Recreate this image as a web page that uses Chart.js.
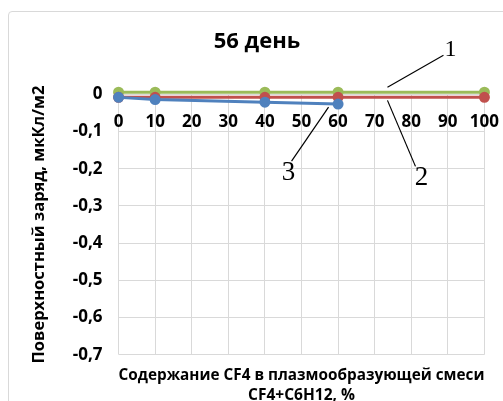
<!DOCTYPE html>
<html>
<head>
<meta charset="utf-8">
<script src="https://cdn.jsdelivr.net/npm/chart.js@4"></script>
<style>
  body { margin: 0; background: #fff; overflow: hidden; }
  #frame {
    position: absolute; left: 8px; top: 11px;
    width: 508px; height: 400px;
    border: 1px solid #d9d9d9; border-radius: 4px;
  }
</style>
</head>
<body>
<div id="frame"><canvas id="graph"></canvas></div>
<script>
// data
const xLevels1 = [0, 10, 40, 60, 100];   // curve 1 (green)
const values1 = [0.006, 0.006, 0.006, 0.006, 0.006];
const xLevels2 = [0, 10, 40, 60, 100];   // curve 2 (red)
const values2 = [-0.008, -0.008, -0.008, -0.008, -0.008];
const xLevels3 = [0, 10, 40, 60];        // curve 3 (blue)
const values3 = [-0.008, -0.014, -0.021, -0.026];

const yTicks = [0, -0.1, -0.2, -0.3, -0.4, -0.5, -0.6, -0.7];

const pairs = (xs, ys) => xs.map((x, i) => ({ x: x, y: ys[i] }));

//leader lines with the numbers 1, 2, 3
const labels = [
  { text: "1", x: 73.5, y: values1[0], dy0: -5, dx: 56, dy: -32, size: 24 },
  { text: "2", x: 73.5, y: values2[0], dy0: 3, dx: 28, dy: 66, size: 27 },
  { text: "3", x: 57.4, y: values3[3], dy0: 3, dx: -37, dy: 54, size: 27 }
];

const leaderPlugin = {
  id: "leaders",
  afterDatasetsDraw(chart) {
    const ctx = chart.ctx;
    const xs = chart.scales.x, ys = chart.scales.y;
    ctx.save();
    ctx.strokeStyle = "#000";
    ctx.lineWidth = 1.2;
    ctx.fillStyle = "#000";
    labels.forEach(l => {
      const x0 = xs.getPixelForValue(l.x);
      const y0 = ys.getPixelForValue(l.y) + l.dy0;
      ctx.beginPath();
      ctx.moveTo(x0, y0);
      ctx.lineTo(x0 + l.dx, y0 + l.dy);
      ctx.stroke();
      ctx.font = l.size + "px 'Liberation Serif'";
      ctx.textAlign = l.dy < 0 ? "left" : "center";
      ctx.textBaseline = l.dy < 0 ? "middle" : "top";
      const tx = l.dy < 0 ? x0 + l.dx + 1 : x0 + l.dx + (l.dx > 0 ? 6 : -3);
      const ty = l.dy < 0 ? y0 + l.dy - 5 : y0 + l.dy - 2;
      ctx.fillText(l.text, tx, ty);
    });
    ctx.restore();
  }
};

window.onload = function () {
  loadChart(document.querySelector("#graph"));
}

function loadChart(element) {
  const line = (data, color) => ({
    data: data,
    borderColor: color,
    backgroundColor: color,
    borderWidth: 3,
    pointRadius: 4,
    pointHoverRadius: 4,
    clip: false
  });

  new Chart(element, {
    type: 'line',
    data: {
      datasets: [
        line(pairs(xLevels3, values3), "#4f81bd"),
        line(pairs(xLevels2, values2), "#c0504d"),
        line(pairs(xLevels1, values1), "#9bbb59")
      ]
    },
    plugins: [leaderPlugin],
    options: {
      responsive: true,
      maintainAspectRatio: false,
      animation: false,
      layout: { padding: { left: 20, right: 32, top: 0, bottom: 6 } },
      plugins: {
        legend: { display: false },
        tooltip: { enabled: false },
        title: {
          display: true,
          text: "56 день",
          color: "#000",
          font: { family: "'Open Sans'", size: 22, weight: "bold" },
          padding: { top: 17, bottom: 39 }
        }
      },
      scales: {
        x: {
          type: 'linear',
          position: { y: 0 },
          min: 0, max: 100,
          ticks: {
            stepSize: 10,
            padding: 18,
            color: "#000",
            font: { family: "'Open Sans'", size: 17, weight: "bold" }
          },
          grid: { color: "#d9d9d9", drawTicks: false },
          border: { color: "#d9d9d9" }
        },
        x2: {
          type: 'linear',
          position: 'bottom',
          min: 0, max: 100,
          ticks: { display: false },
          grid: { display: false, drawTicks: false },
          border: { display: false },
          title: {
            display: true,
            text: ["Содержание CF4 в плазмообразующей смеси", "CF4+C6H12, %"],
            color: "#000",
            font: { family: "'Open Sans'", size: 15.5, weight: "bold", lineHeight: 1.3 },
            padding: { top: 11, bottom: 0 }
          }
        },
        y: {
          min: -0.7, max: 0,
          afterBuildTicks: axis => { axis.ticks = yTicks.map(v => ({ value: v })); },
          ticks: {
            padding: 16,
            color: "#000",
            font: { family: "'Open Sans'", size: 17, weight: "bold" },
            callback: v => v === 0 ? "0" : v.toFixed(1).replace(".", ",")
          },
          grid: { color: "#d9d9d9", drawTicks: false },
          border: { display: false },
          title: {
            display: true,
            text: "Поверхностный заряд, мкКл/м2",
            color: "#000",
            font: { family: "'Open Sans'", size: 16.5, weight: "bold" },
            padding: { top: 0, bottom: 8 }
          }
        }
      }
    }
  });
}
</script>
</body>
</html>
